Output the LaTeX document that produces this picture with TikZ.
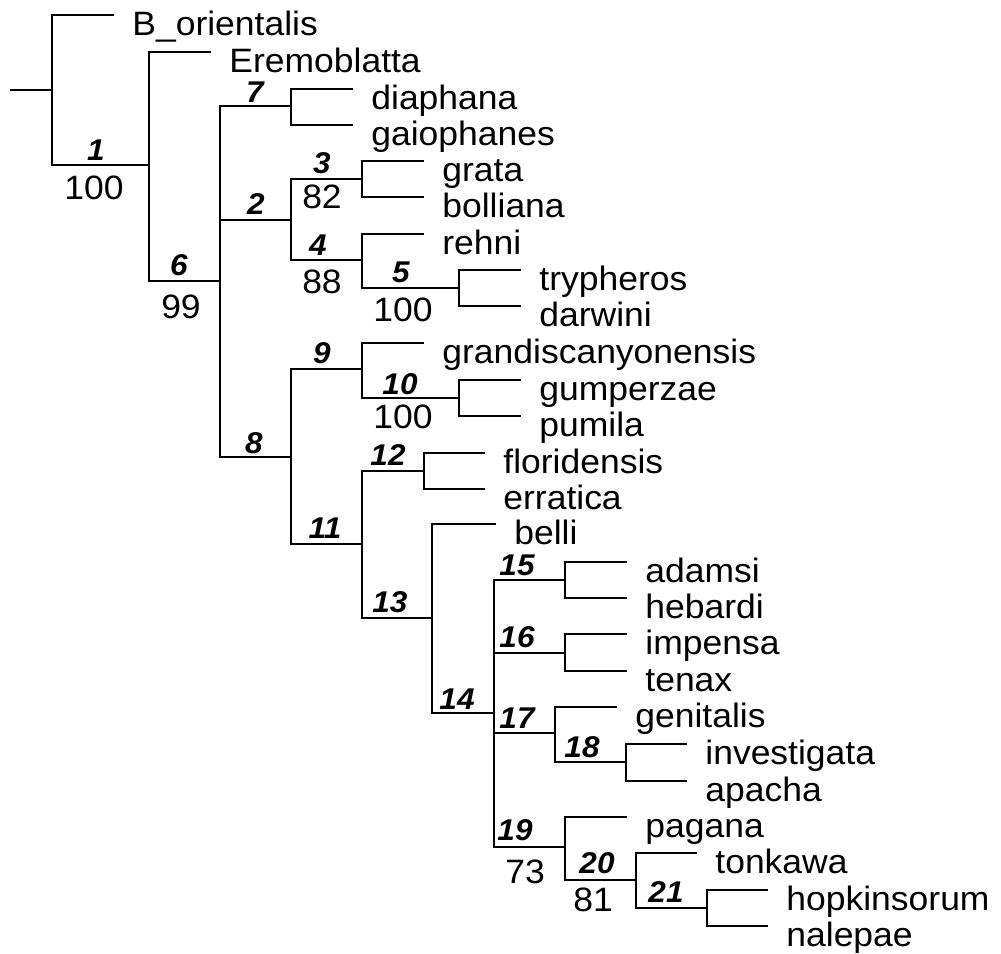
\documentclass[tikz,border=0pt]{standalone}
\usepackage{fontspec}
\setmainfont{Liberation Sans}[FakeStretch=1.05]
\newcommand{\mytip}[4]{%
  \coordinate (#1) at (#2,#3);
  \node[taxon] (#1-l) at (#2+18,#3+20) {#4};}
\begin{document}
\begin{tikzpicture}[x=0.5pt,y=-0.5pt,
  br/.style={line width=1.3pt, line join=miter},
  taxon/.style={anchor=base west, inner sep=0pt, font=\fontsize{16.9}{19}\selectfont},
  num/.style={inner sep=0pt, font=\fontsize{15}{16}\selectfont\bfseries\itshape},
  sup/.style={inner sep=0pt, font=\fontsize{16.9}{19}\selectfont}]
\useasboundingbox (0,0) rectangle (1001,953);
% internal nodes
\coordinate (stub) at (10,90);
\coordinate (root) at (52,90);
\coordinate (n1) at (149,165);
\coordinate (n6) at (220,281);
\coordinate (n7) at (291,106);
\coordinate (n2) at (291,220);
\coordinate (n3) at (362,179);
\coordinate (n4) at (362,260);
\coordinate (n5) at (459,288);
\coordinate (n8) at (291,457);
\coordinate (n9) at (362,369);
\coordinate (n10) at (459,398);
\coordinate (n11) at (362,544);
\coordinate (n12) at (424,471);
\coordinate (n13) at (432,618);
\coordinate (n14) at (494,713);
\coordinate (n15) at (565,580);
\coordinate (n16) at (565,653);
\coordinate (n17) at (555,733);
\coordinate (n18) at (626,762);
\coordinate (n19) at (565,847);
\coordinate (n20) at (636,880);
\coordinate (n21) at (707,908);
% tips
\mytip{tB}{114}{15}{B\_orientalis}
\mytip{tE}{211}{52}{Eremoblatta}
\mytip{tdia}{353}{89}{diaphana}
\mytip{tgai}{353}{125}{gaiophanes}
\mytip{tgra}{424}{161}{grata}
\mytip{tbol}{424}{197}{bolliana}
\mytip{treh}{424}{234}{rehni}
\mytip{ttry}{521}{270}{trypheros}
\mytip{tdar}{521}{306}{darwini}
\mytip{tgrd}{424}{343}{grandiscanyonensis}
\mytip{tgum}{521}{380}{gumperzae}
\mytip{tpum}{521}{416}{pumila}
\mytip{tflo}{485}{453}{floridensis}
\mytip{terr}{485}{489}{erratica}
\mytip{tbel}{496}{524}{belli}
\mytip{tada}{627}{562}{adamsi}
\mytip{theb}{627}{598}{hebardi}
\mytip{timp}{627}{634}{impensa}
\mytip{tten}{627}{671}{tenax}
\mytip{tgen}{617}{707}{genitalis}
\mytip{tinv}{687}{744}{investigata}
\mytip{tapa}{687}{781}{apacha}
\mytip{tpag}{627}{817}{pagana}
\mytip{tton}{697}{853}{tonkawa}
\mytip{thop}{768}{890}{hopkinsorum}
\mytip{tnal}{768}{926}{nalepae}
% branches
\draw[br] (stub) -- (root);
\draw[br] (tB) -| (root) |- (n1);
\draw[br] (tE) -| (n1) |- (n6);
\draw[br] (n7) -| (n6) |- (n8);
\draw[br] (n6) |- (n2);
\draw[br] (tdia) -| (n7) |- (tgai);
\draw[br] (n3) -| (n2) |- (n4);
\draw[br] (tgra) -| (n3) |- (tbol);
\draw[br] (treh) -| (n4) |- (n5);
\draw[br] (ttry) -| (n5) |- (tdar);
\draw[br] (n9) -| (n8) |- (n11);
\draw[br] (tgrd) -| (n9) |- (n10);
\draw[br] (tgum) -| (n10) |- (tpum);
\draw[br] (n12) -| (n11) |- (n13);
\draw[br] (tflo) -| (n12) |- (terr);
\draw[br] (tbel) -| (n13) |- (n14);
\draw[br] (n15) -| (n14) |- (n19);
\draw[br] (n14) |- (n16);
\draw[br] (n14) |- (n17);
\draw[br] (tada) -| (n15) |- (theb);
\draw[br] (timp) -| (n16) |- (tten);
\draw[br] (tgen) -| (n17) |- (n18);
\draw[br] (tinv) -| (n18) |- (tapa);
\draw[br] (tpag) -| (n19) |- (n20);
\draw[br] (tton) -| (n20) |- (n21);
\draw[br] (thop) -| (n21) |- (tnal);
% clade numbers
\node[num] (c1) at (96,150) {1};
\node[num] (c2) at (256,204) {2};
\node[num] (c3) at (322,163) {3};
\node[num] (c4) at (318,245) {4};
\node[num] (c5) at (401,272) {5};
\node[num] (c6) at (179,265) {6};
\node[num] (c7) at (255,92) {7};
\node[num] (c8) at (254,443) {8};
\node[num] (c9) at (322,353) {9};
\node[num] (c10) at (400,384) {10};
\node[num] (c11) at (325,528) {11};
\node[num] (c12) at (388,455) {12};
\node[num] (c13) at (390,602) {13};
\node[num] (c14) at (457,699) {14};
\node[num] (c15) at (517,565) {15};
\node[num] (c16) at (517,637) {16};
\node[num] (c17) at (517,718) {17};
\node[num] (c18) at (582,747) {18};
\node[num] (c19) at (515,830) {19};
\node[num] (c20) at (597,863) {20};
\node[num] (c21) at (666,892) {21};
% support values
\node[sup] (s1) at (94,188) {100};
\node[sup] (s6) at (181,307) {99};
\node[sup] (s3) at (322,197) {82};
\node[sup] (s4) at (322,282) {88};
\node[sup] (s5) at (403,310) {100};
\node[sup] (s10) at (403,417) {100};
\node[sup] (s19) at (525,872) {73};
\node[sup] (s20) at (593,900) {81};
\end{tikzpicture}
\end{document}
